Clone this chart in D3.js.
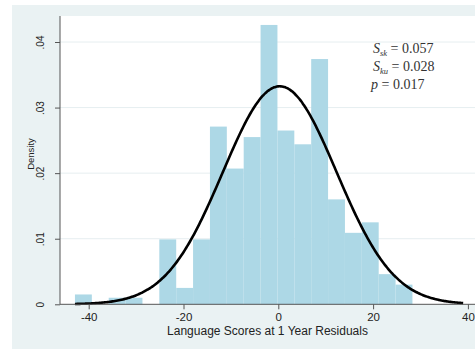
<!DOCTYPE html>
<html>
<head>
<meta charset="utf-8">
<script src="https://cdn.jsdelivr.net/npm/d3@7"></script>
<style>
  html, body { margin: 0; padding: 0; background: #fff; }
  svg { display: block; }
</style>
</head>
<body>
<div id="chart"></div>
<script>
// ---- data ----
const binStart = -42.9;          // left edge of first bin
const binWidth = 3.56;           // bin width
const densities = [0.0015, 0, 0.001, 0.001, 0, 0.0099, 0.0025, 0.0099, 0.0271, 0.0207,
                   0.0255, 0.0426, 0.0265, 0.0244, 0.0374, 0.016, 0.0109, 0.0125, 0.0046, 0.003];
const normalMean = 0.3;
const normalSd = 12;
const curveRange = [-42.9, 39];
const xTicks = [-40, -20, 0, 20, 40];
const xTickLabels = ["-40", "-20", "0", "20", "40"];
const yTicks = [0, 0.01, 0.02, 0.03, 0.04];
const yTickLabels = ["0", ".01", ".02", ".03", ".04"];
const xTitle = "Language Scores at 1 Year Residuals";
const yTitle = "Density";
const statNames = [["S", "sk"], ["S", "ku"], ["p", ""]];
const statValues = ["0.057", "0.028", "0.017"];

// ---- drawing ----
const W = 475, H = 349;
const svg = d3.select("#chart").append("svg").attr("width", W).attr("height", H);

const plot = {left: 60, top: 16, right: 475, bottom: 304.3};
const x = d3.scaleLinear().domain([-40, 40]).range([88.7, 467.9]);
const y = d3.scaleLinear().domain([0, 0.04]).range([304.3, 42]);

// outer background
svg.append("rect").attr("x", 12).attr("y", 5).attr("width", W - 12).attr("height", H - 5)
  .attr("fill", "#eaf2f3");
// plot region
svg.append("rect").attr("x", plot.left).attr("y", plot.top)
  .attr("width", plot.right - plot.left).attr("height", plot.bottom - plot.top)
  .attr("fill", "#ffffff");

// gridlines
svg.append("g").selectAll("line").data(yTicks.filter(d => d > 0)).join("line")
  .attr("x1", plot.left).attr("x2", plot.right)
  .attr("y1", d => y(d)).attr("y2", d => y(d))
  .attr("stroke", "#e6eef0").attr("stroke-width", 1);

// bars
const bins = densities.map((d, i) => ({x0: binStart + i * binWidth, x1: binStart + (i + 1) * binWidth, d}));
svg.append("g").selectAll("rect").data(bins.filter(b => b.d > 0)).join("rect")
  .attr("x", b => x(b.x0)).attr("width", b => x(b.x1) - x(b.x0))
  .attr("y", b => y(b.d)).attr("height", b => y(0) - y(b.d))
  .attr("fill", "#add8e6");

// normal curve
const pts = d3.range(0, 301).map(i => {
  const v = curveRange[0] + (curveRange[1] - curveRange[0]) * i / 300;
  const dens = Math.exp(-0.5 * Math.pow((v - normalMean) / normalSd, 2)) / (normalSd * Math.sqrt(2 * Math.PI));
  return [v, dens];
});
svg.append("path").datum(pts)
  .attr("d", d3.line().x(d => x(d[0])).y(d => y(d[1])).curve(d3.curveBasis))
  .attr("fill", "none").attr("stroke", "#000").attr("stroke-width", 2.6);

// y axis
const yAxis = d3.axisLeft(y).tickValues(yTicks).tickSize(5).tickFormat((d, i) => yTickLabels[i]);
const gy = svg.append("g").attr("transform", `translate(${plot.left},0)`).call(yAxis);
gy.select(".domain").attr("d", `M0,${plot.top}V${plot.bottom}`).attr("stroke", "#555");
gy.selectAll(".tick line").attr("stroke", "#555");
gy.selectAll(".tick text")
  .attr("font-family", "Liberation Sans, Arial, sans-serif").attr("font-size", 10)
  .attr("fill", "#222")
  .attr("text-anchor", "middle")
  .attr("x", null).attr("dy", null)
  .attr("transform", "translate(-16,0) rotate(-90)");

// x axis
const xAxis = d3.axisBottom(x).tickValues(xTicks).tickSize(5).tickFormat((d, i) => xTickLabels[i]);
const gx = svg.append("g").attr("transform", `translate(0,${plot.bottom})`).call(xAxis);
gx.select(".domain").attr("d", `M${plot.left},0H${plot.right}`).attr("stroke", "#555");
gx.selectAll(".tick line").attr("stroke", "#555");
gx.selectAll(".tick text")
  .attr("font-family", "Liberation Sans, Arial, sans-serif").attr("font-size", 11.5)
  .attr("fill", "#222").attr("y", 17).attr("dy", null);

// axis titles
svg.append("text").attr("x", (plot.left + plot.right) / 2).attr("y", 335)
  .attr("text-anchor", "middle")
  .attr("font-family", "Liberation Sans, Arial, sans-serif").attr("font-size", 12)
  .attr("fill", "#222").text(xTitle);
svg.append("text").attr("transform", "translate(34,154) rotate(-90)")
  .attr("text-anchor", "middle")
  .attr("font-family", "Liberation Sans, Arial, sans-serif").attr("font-size", 9.5)
  .attr("fill", "#222").text(yTitle);

// annotation
const ann = svg.append("g").attr("font-family", "Liberation Serif, Times New Roman, serif")
  .attr("fill", "#333");
statNames.forEach((nm, i) => {
  const t = ann.append("text").attr("x", nm[1] ? 373 : 371).attr("y", 53 + i * 18)
    .attr("font-size", 14);
  t.append("tspan").attr("font-style", "italic").text(nm[0]);
  if (nm[1]) {
    t.append("tspan").attr("font-style", "italic").attr("font-size", 8.5).attr("dy", 3).text(nm[1]);
    t.append("tspan").attr("dy", -3).text(" = " + statValues[i]);
  } else {
    t.append("tspan").text(" = " + statValues[i]);
  }
});
</script>
</body>
</html>
